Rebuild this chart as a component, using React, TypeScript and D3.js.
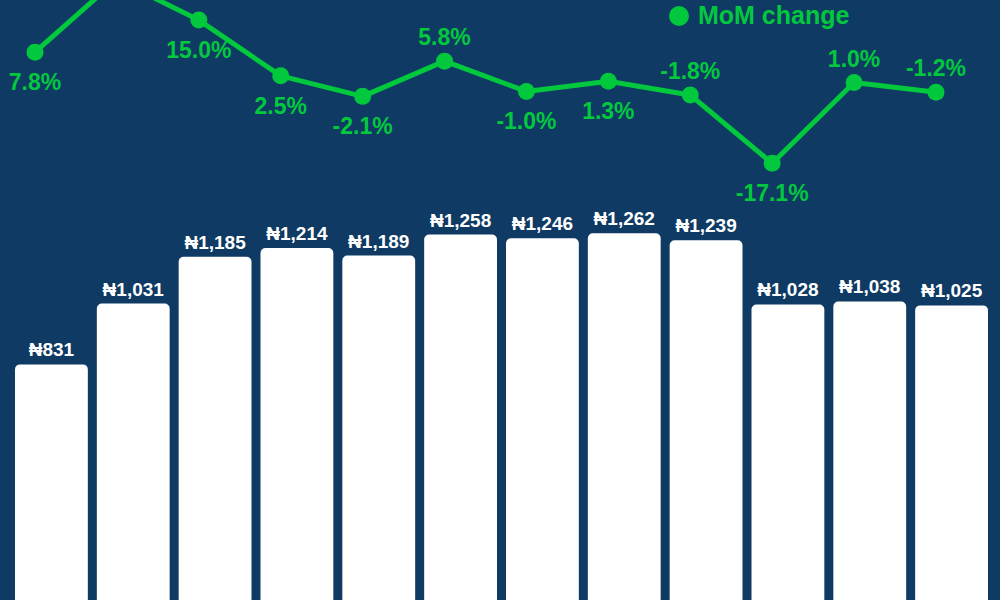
import * as d3 from 'd3';

const PERIODS = ['P1', 'P2', 'P3', 'P4', 'P5', 'P6', 'P7', 'P8', 'P9', 'P10', 'P11', 'P12'];
const PRICES = [831, 1031, 1185, 1214, 1189, 1258, 1246, 1262, 1239, 1028, 1038, 1025];
const MOM_CHANGE = [7.8, 24.1, 15.0, 2.5, -2.1, 5.8, -1.0, 1.3, -1.8, -17.1, 1.0, -1.2];
const LABEL_SIDE = ['below', 'above', 'below', 'below', 'below', 'above', 'below', 'below', 'above', 'below', 'above', 'above'];

const W = 1000;
const H = 600;
const BG = '#0e3a63';
const GREEN = '#02c83e';
const FONT = '"Liberation Sans", Arial, sans-serif';

const fmtPrice = (v: number) => `\u20a6${d3.format(',')(v)}`;
const fmtPct = (v: number) => `${v.toFixed(1)}%`;

export default function App() {
  const x = d3.scaleBand<string>()
    .domain(PERIODS)
    .range([10.5, 992.5])
    .paddingInner(0.11)
    .paddingOuter(0.055);

  const y = d3.scaleLinear()
    .domain([0, 1300])
    .range([617, 221.8]);

  // line sits slightly left of bar centres
  const xl = d3.scalePoint<string>()
    .domain(PERIODS)
    .range([35, 936]);

  const yl = d3.scaleLinear()
    .domain([-20, 25])
    .range([176.2, -24.5]);

  const line = d3.line<number>()
    .x((_, i) => xl(PERIODS[i]) ?? 0)
    .y(d => yl(d));

  // labels pushed off the top of the frame are not drawn
  const pctLabels = MOM_CHANGE.map((v, i) => ({
    v,
    i,
    ly: LABEL_SIDE[i] === 'above' ? yl(v) - 16 : yl(v) + 38,
  })).filter(d => d.ly > 20);

  return (
    <svg width={W} height={H} style={{ position: 'fixed', top: 0, left: 0, background: BG }}>
      <rect width={W} height={H} fill={BG} />

      {/* Bars */}
      {PRICES.map((v, i) => (
        <g key={PERIODS[i]}>
          <rect
            x={x(PERIODS[i])}
            y={y(v)}
            width={x.bandwidth()}
            height={y(0) - y(v)}
            rx={5}
            fill="#ffffff"
          />
          <text
            x={(x(PERIODS[i]) ?? 0) + x.bandwidth() / 2}
            y={y(v) - 8}
            textAnchor="middle"
            fontSize={19}
            fontWeight={700}
            fontFamily={FONT}
            fill="#ffffff"
          >
            {fmtPrice(v)}
          </text>
        </g>
      ))}

      {/* MoM line */}
      <path d={line(MOM_CHANGE) ?? ''} fill="none" stroke={GREEN} strokeWidth={5} strokeLinejoin="round" />
      {MOM_CHANGE.map((v, i) => (
        <circle key={`pt-${i}`} cx={xl(PERIODS[i])} cy={yl(v)} r={8.5} fill={GREEN} />
      ))}
      {pctLabels.map(d => (
        <text
          key={`lbl-${d.i}`}
          x={xl(PERIODS[d.i])}
          y={d.ly}
          textAnchor="middle"
          fontSize={23}
          fontWeight={700}
          fontFamily={FONT}
          fill={GREEN}
        >
          {fmtPct(d.v)}
        </text>
      ))}

      {/* Legend */}
      <circle cx={679} cy={16} r={10} fill={GREEN} />
      <text x={698} y={24} fontSize={25} fontWeight={700} fontFamily={FONT} fill={GREEN}>
        MoM change
      </text>
    </svg>
  );
}
